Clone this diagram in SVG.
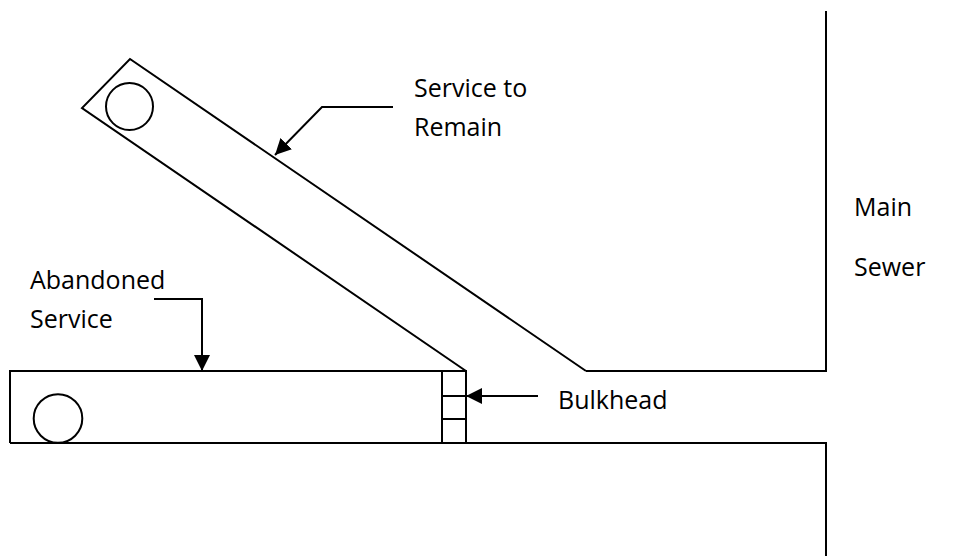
<svg xmlns="http://www.w3.org/2000/svg" width="960" height="558" viewBox="0 0 960 558">
<style>
.ln{fill:none;stroke:#000;stroke-width:2;stroke-linejoin:miter}
.lbl{font-family:"Open Sans","Liberation Sans",sans-serif;font-size:25px;fill:#000}
</style>
<defs>
<marker id="ah" viewBox="0 0 16 16" refX="16" refY="8" markerWidth="16" markerHeight="16" markerUnits="userSpaceOnUse" orient="auto">
<path d="M0,0 L16,8 L0,16 Z" fill="#000"/>
</marker>
</defs>
<rect width="960" height="558" fill="#fff"/>
<g id="main-sewer">
<polyline class="ln" points="826,11 826,371 586,371"/>
<polyline class="ln" points="10,443 826,443 826,556"/>
</g>
<g id="service-to-remain">
<polyline class="ln" points="586,371 130,59 82,108 466,371"/>
<circle class="ln" cx="129.5" cy="106.5" r="23.5"/>
</g>
<g id="abandoned-service">
<polyline class="ln" points="442,371 10,371 10,443"/>
<circle class="ln" cx="58" cy="418.5" r="24.3"/>
</g>
<g id="bulkhead">
<rect class="ln" x="442" y="371" width="24" height="72"/>
<line class="ln" x1="442" y1="396" x2="466" y2="396"/>
<line class="ln" x1="442" y1="419" x2="466" y2="419"/>
</g>
<g id="connectors">
<polyline class="ln" points="393,107 322,107 275,155" marker-end="url(#ah)"/>
<polyline class="ln" points="154,299 202,299 202,371" marker-end="url(#ah)"/>
<line class="ln" x1="538" y1="396" x2="466" y2="396" marker-end="url(#ah)"/>
</g>
<g id="labels">
<text class="lbl" x="414" y="97">Service to</text>
<text class="lbl" x="414" y="136">Remain</text>
<text class="lbl" x="854" y="216">Main</text>
<text class="lbl" x="854" y="276">Sewer</text>
<text class="lbl" x="30" y="289">Abandoned</text>
<text class="lbl" x="30" y="328">Service</text>
<text class="lbl" x="558" y="409">Bulkhead</text>
</g>
</svg>
